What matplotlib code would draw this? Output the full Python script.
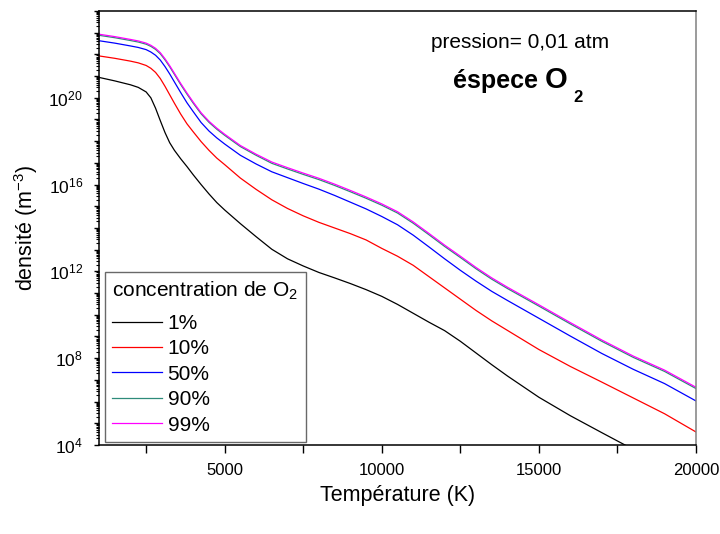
import numpy as np
import matplotlib
matplotlib.use("Agg")
import matplotlib.pyplot as plt
from matplotlib.ticker import LogLocator, FixedLocator, FuncFormatter

plt.rcParams['font.family'] = ['Liberation Sans', 'DejaVu Sans']
plt.rcParams['mathtext.fontset'] = 'custom'
plt.rcParams['mathtext.rm'] = 'Liberation Sans'
plt.rcParams['mathtext.it'] = 'Liberation Sans:italic'
plt.rcParams['mathtext.bf'] = 'Liberation Sans:bold'

# Temperature grid (K)
T = [1000, 1500, 2000, 2250, 2500, 2650, 2800, 2950, 3100, 3250, 3400, 3600, 3800, 4000,
     4250, 4500, 4750, 5000, 5500, 6000, 6500, 7000, 7500, 8000, 8500, 9000, 9500, 10000,
     10500, 11000, 11500, 12000, 12500, 13000, 13500, 14000, 15000, 16000, 17000, 18000,
     19000, 20000]

# log10 of density (m^-3)
log_1 = [20.94, 20.78, 20.60, 20.48, 20.27, 20.00, 19.52, 18.95, 18.40, 17.93,
         17.58, 17.19, 16.83, 16.45, 16.00, 15.57, 15.17, 14.83, 14.20, 13.60,
         13.02, 12.58, 12.25, 11.95, 11.70, 11.44, 11.16, 10.85, 10.48, 10.07,
         9.66, 9.27, 8.78, 8.24, 7.70, 7.18, 6.20, 5.35, 4.57, 3.80, 3.10, 2.40]
log_10 = [21.93, 21.82, 21.69, 21.61, 21.49, 21.36, 21.17, 20.89, 20.53, 20.14,
          19.75, 19.25, 18.80, 18.43, 17.98, 17.58, 17.22, 16.92, 16.30, 15.78,
          15.30, 14.90, 14.56, 14.26, 14.00, 13.74, 13.45, 13.06, 12.70, 12.28,
          11.76, 11.24, 10.72, 10.20, 9.72, 9.28, 8.40, 7.62, 6.90, 6.17, 5.44, 4.60]
log_50 = [22.63, 22.52, 22.39, 22.32, 22.22, 22.11, 21.96, 21.74, 21.44, 21.10,
          20.73, 20.24, 19.77, 19.36, 18.86, 18.47, 18.15, 17.87, 17.35, 16.95,
          16.59, 16.32, 16.05, 15.79, 15.50, 15.19, 14.88, 14.53, 14.15, 13.67,
          13.13, 12.58, 12.05, 11.55, 11.08, 10.66, 9.84, 9.02, 8.22, 7.49, 6.83, 6.03]
log_90 = [22.88, 22.77, 22.64, 22.57, 22.47, 22.37, 22.23, 22.03, 21.75, 21.43,
          21.08, 20.61, 20.17, 19.75, 19.26, 18.87, 18.55, 18.27, 17.75, 17.35,
          16.98, 16.72, 16.47, 16.23, 15.96, 15.67, 15.37, 15.05, 14.69, 14.22,
          13.69, 13.15, 12.64, 12.12, 11.64, 11.21, 10.40, 9.58, 8.78, 8.04, 7.39, 6.60]
log_99 = [22.93, 22.82, 22.69, 22.62, 22.52, 22.42, 22.28, 22.08, 21.80, 21.48,
          21.13, 20.66, 20.22, 19.80, 19.31, 18.92, 18.60, 18.32, 17.80, 17.40,
          17.04, 16.78, 16.53, 16.29, 16.02, 15.73, 15.43, 15.11, 14.75, 14.28,
          13.75, 13.21, 12.70, 12.18, 11.70, 11.27, 10.46, 9.64, 8.84, 8.10, 7.45, 6.66]

series_labels = ['1%', '10%', '50%', '90%', '99%']
series_logs = [log_1, log_10, log_50, log_90, log_99]
colors = ['#000000', '#ff0000', '#0000ff', '#2e8b7a', '#ff00ff']

fig = plt.figure(figsize=(7.2, 5.34), dpi=100)
ax = fig.add_axes([99/720, (534-445)/534, (696-99)/720, (445-11)/534])

Tarr = np.array(T)
for lab, lg, c in zip(series_labels, series_logs, colors):
    ax.plot(Tarr, 10.0**np.array(lg), color=c, lw=0.9, label=lab)

ax.set_yscale('log')
ax.set_xlim(1000, 20000)
ax.set_ylim(1e4, 1e24)

ax.xaxis.set_major_locator(FixedLocator([5000, 10000, 15000, 20000]))
ax.xaxis.set_minor_locator(FixedLocator([2500, 7500, 12500, 17500]))
ax.yaxis.set_major_locator(FixedLocator([10.0**k for k in range(4, 25)]))
ax.yaxis.set_minor_locator(LogLocator(base=10, subs=np.arange(2, 10), numticks=100))

def yfmt(v, pos):
    k = int(round(np.log10(v)))
    if k % 4 == 0 and k < 24:
        return r'$\mathregular{10^{%d}}$' % k
    return ''
ax.yaxis.set_major_formatter(FuncFormatter(yfmt))
ax.yaxis.set_minor_formatter(FuncFormatter(lambda v, p: ''))

ax.tick_params(axis='x', which='both', direction='out', length=6, width=1.0, labelsize=12, pad=7)
ax.tick_params(axis='y', which='major', direction='out', length=3.5, width=1.0, labelsize=12.5, pad=8)
ax.tick_params(axis='y', which='minor', direction='out', length=2.2, width=0.8)
ax.tick_params(top=False, right=False)
for s in ax.spines.values():
    s.set_linewidth(1.1)
ax.spines['right'].set_color('#808080')

ax.set_xlabel('Température (K)', fontsize=15.5, labelpad=5)
ax.set_ylabel(r'densité (m$^{-3}$)', fontsize=15.5, labelpad=6)

leg = ax.legend(loc='lower left', title=r'concentration de O$_{2}$', fontsize=15,
                title_fontsize=15, frameon=True, fancybox=False, edgecolor='#444444',
                handlelength=2.4, handletextpad=0.25, borderaxespad=0.0,
                labelspacing=0.31, borderpad=0.35,
                bbox_to_anchor=(6/597, 3/434))
leg._legend_box.align = 'left'
leg._legend_box.sep = 0.31 * 15 + 4.0
leg.get_frame().set_linewidth(1.0)

fig.text(520/720, 1 - 48/534, 'pression= 0,01 atm', fontsize=15, ha='center', va='baseline')
fig.text(495.5/720, 1 - 88/534, 'éspece', fontsize=18, fontweight='bold', ha='center', va='baseline')
fig.text(556.5/720, 1 - 88/534, 'O', fontsize=21, fontweight='bold', ha='center', va='baseline')
fig.text(578/720, 1 - 102/534, '2', fontsize=12, fontweight='bold', ha='center', va='baseline')

fig.savefig('out.png', dpi=100)
